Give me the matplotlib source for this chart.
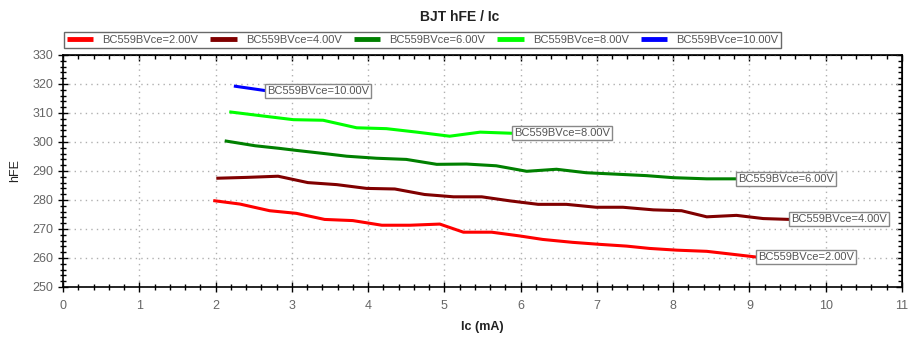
import matplotlib
matplotlib.use("Agg")
import matplotlib.pyplot as plt
from matplotlib.ticker import MultipleLocator, NullFormatter

plt.rcParams['font.family'] = ['Liberation Sans', 'DejaVu Sans']

# hFE vs Ic curves for BC559B at several Vce
labels = ["BC559BVce=2.00V", "BC559BVce=4.00V", "BC559BVce=6.00V",
          "BC559BVce=8.00V", "BC559BVce=10.00V"]
colors = ["#ff0000", "#800000", "#008000", "#00ff00", "#0000ff"]

ic_2v = [1.97, 2.32, 2.71, 3.06, 3.43, 3.80, 4.18, 4.55, 4.94, 5.25, 5.62,
         5.99, 6.29, 6.68, 7.04, 7.39, 7.69, 8.05, 8.44, 8.74, 9.10]
hfe_2v = [279.8, 278.6, 276.3, 275.4, 273.3, 272.9, 271.3, 271.3, 271.7, 268.9,
          268.9, 267.6, 266.4, 265.4, 264.7, 264.1, 263.3, 262.7, 262.3, 261.4, 260.3]

ic_4v = [2.01, 2.41, 2.82, 3.21, 3.59, 3.98, 4.35, 4.74, 5.12, 5.49, 5.86,
         6.23, 6.60, 6.99, 7.34, 7.74, 8.11, 8.44, 8.83, 9.18, 9.53]
hfe_4v = [287.5, 287.8, 288.2, 286.0, 285.3, 284.0, 283.8, 281.9, 281.1, 281.1,
          279.7, 278.5, 278.5, 277.5, 277.5, 276.6, 276.3, 274.2, 274.7, 273.6, 273.3]

ic_6v = [2.12, 2.52, 2.84, 3.06, 3.43, 3.72, 4.11, 4.50, 4.90, 5.29, 5.68,
         6.08, 6.47, 6.86, 7.26, 7.65, 8.00, 8.44, 8.83]
hfe_6v = [300.4, 298.7, 297.8, 297.1, 296.0, 295.1, 294.4, 294.0, 292.3, 292.4,
          291.8, 289.9, 290.6, 289.4, 288.9, 288.4, 287.7, 287.3, 287.3]

ic_8v = [2.18, 2.58, 3.02, 3.41, 3.85, 4.24, 4.64, 5.07, 5.47, 5.90]
hfe_8v = [310.4, 309.1, 307.7, 307.5, 304.9, 304.6, 303.4, 302.0, 303.4, 303.0]

ic_10v = [2.24, 2.66]
hfe_10v = [319.3, 317.7]

series = [(ic_2v, hfe_2v), (ic_4v, hfe_4v), (ic_6v, hfe_6v),
          (ic_8v, hfe_8v), (ic_10v, hfe_10v)]

fig = plt.figure(figsize=(9.2, 3.42), dpi=100)
ax = fig.add_axes([63 / 920, 55 / 342, 839 / 920, 232 / 342])

for (x, y), lab, c in zip(series, labels, colors):
    ax.plot(x, y, color=c, lw=2.2, label=lab, solid_capstyle='butt', zorder=3)
    # tag at the end of each curve
    ax.annotate(lab, (x[-1], y[-1]), xytext=(1, 0), textcoords='offset points',
                ha='left', va='center', fontsize=8, color='#555555', zorder=4,
                bbox=dict(boxstyle='square,pad=0.18', fc='white', ec='#888888', lw=1))

ax.set_xlim(0, 11)
ax.set_ylim(250, 330)
ax.xaxis.set_major_locator(MultipleLocator(1))
ax.xaxis.set_minor_locator(MultipleLocator(0.2))
ax.yaxis.set_major_locator(MultipleLocator(10))
ax.yaxis.set_minor_locator(MultipleLocator(2))

ax.grid(True, which='major', color='#b0b0b0', linestyle=(0, (1, 3)), lw=1)
ax.tick_params(which='both', direction='inout', labelsize=9,
               labelcolor='#666666', color='black')
ax.tick_params(axis='x', which='major', pad=6)
ax.tick_params(which='major', length=7, width=1)
ax.tick_params(which='minor', length=5, width=1)
for s in ax.spines.values():
    s.set_linewidth(1.2)

# top and right edges: inward ticks only
top = ax.secondary_xaxis('top')
right = ax.secondary_yaxis('right')
for sec, axis in ((top, top.xaxis), (right, right.yaxis)):
    axis.set_major_locator(MultipleLocator(1 if sec is top else 10))
    axis.set_minor_locator(MultipleLocator(0.2 if sec is top else 2))
    axis.set_major_formatter(NullFormatter())
    sec.tick_params(which='both', direction='in', color='black')
    sec.tick_params(which='major', length=4, width=1)
    sec.tick_params(which='minor', length=3, width=1)

ax.set_xlabel("Ic (mA)", fontsize=9, fontweight='bold', color='#222222', labelpad=6)
ax.set_ylabel("hFE", fontsize=9, color='#222222', labelpad=8)

fig.text(0.5, 1 - 17 / 342, "BJT hFE / Ic", ha='center', va='center',
         fontsize=10, fontweight='bold', color='#222222')

leg = ax.legend(loc='lower left', bbox_to_anchor=(1 / 839, 1.03, 717 / 839, 0.06),
                mode='expand', ncol=5, fontsize=8, frameon=True, fancybox=False,
                handlelength=2.4, handletextpad=0.8, borderpad=0.25,
                borderaxespad=0, columnspacing=1.2)
leg.get_frame().set_edgecolor('#444444')
leg.get_frame().set_linewidth(1)
for t in leg.get_texts():
    t.set_color('#555555')
for h in leg.get_lines():
    h.set_linewidth(3.5)

fig.savefig("out.png", dpi=100)
